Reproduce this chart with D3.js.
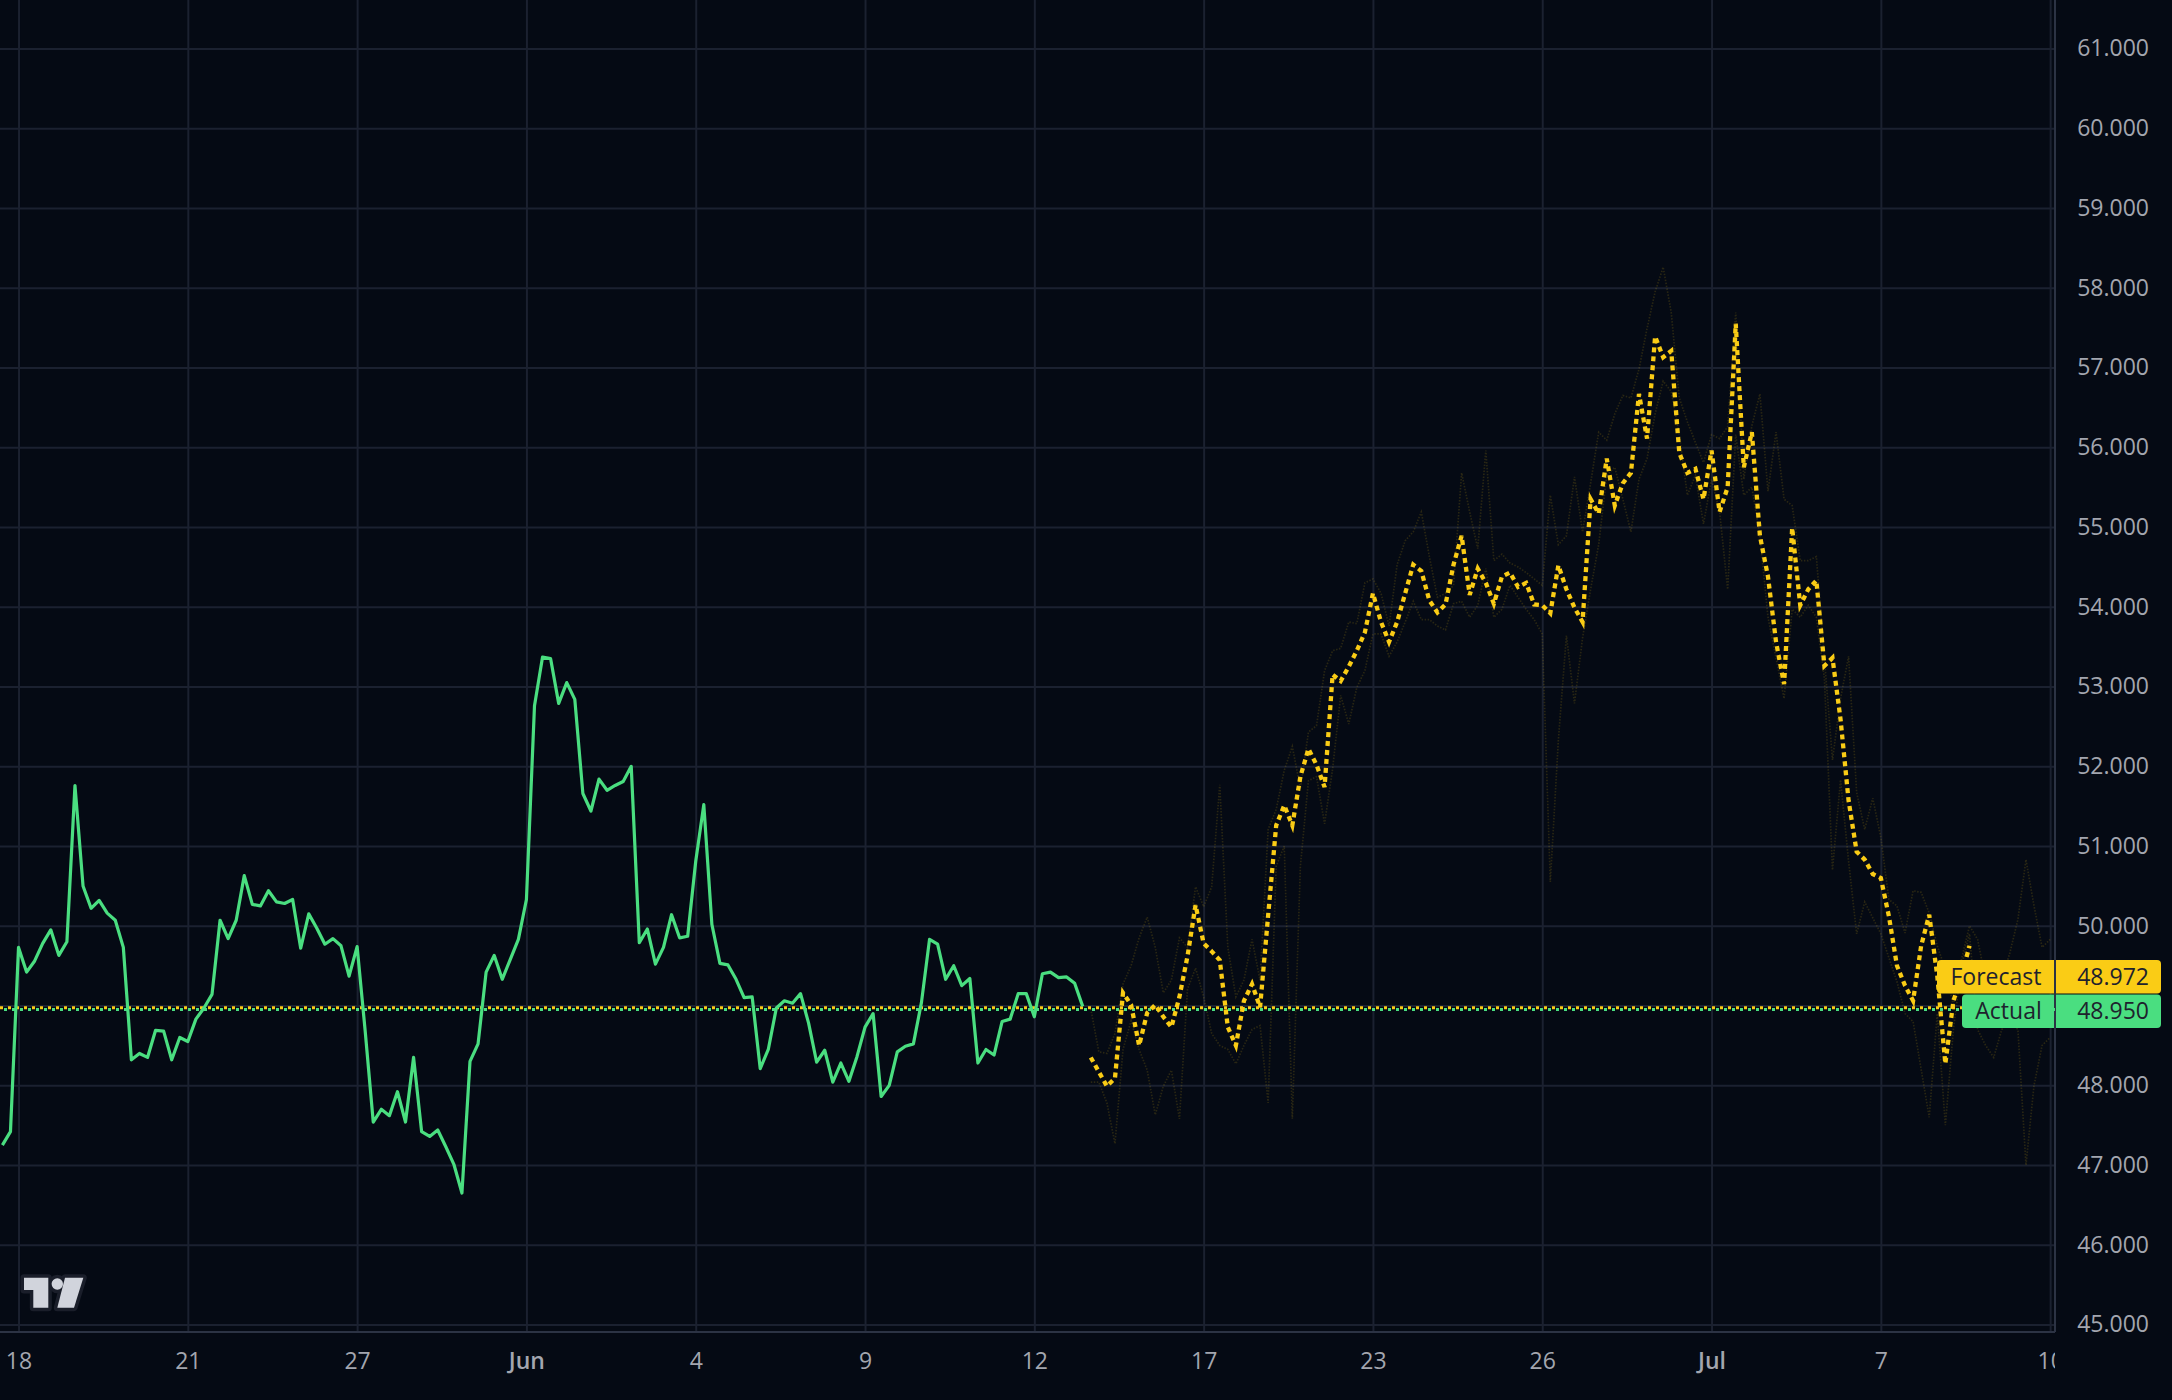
<!DOCTYPE html>
<html>
<head>
<meta charset="utf-8">
<script src="https://cdn.jsdelivr.net/npm/d3@7"></script>
<style>
  html, body { margin: 0; padding: 0; background: #050a14; }
  svg { display: block; }
  text { font-family: "Open Sans", "Noto Sans", sans-serif; }
</style>
</head>
<body>
<div id="chart"></div>
<script>
const width = 2172
const height = 1400
const plotRight = 2055
const plotBottom = 1332

// etiquetas del eje x (un tick cada 21 velas)
const xTickIndex = [2, 23, 44, 65, 86, 107, 128, 149, 170, 191, 212, 233, 254]
const xTickLabels = ['18', '21', '27', 'Jun', '4', '9', '12', '17', '23', '26', 'Jul', '7', '10']
const boldLabels = ['Jun', 'Jul']
const yTicks = [45, 46, 47, 48, 49, 50, 51, 52, 53, 54, 55, 56, 57, 58, 59, 60, 61]
// 49.000 queda tapado por las etiquetas de ultimo valor
const yLabelTicks = [45, 46, 47, 48, 50, 51, 52, 53, 54, 55, 56, 57, 58, 59, 60, 61]

// serie real (indices 0..134)
const actual = [
  47.25, 47.42, 49.73, 49.42, 49.56, 49.78, 49.95, 49.63, 49.80, 51.76,
  50.50, 50.22, 50.32, 50.16, 50.07, 49.73, 48.32, 48.40, 48.35, 48.69,
  48.68, 48.32, 48.60, 48.55, 48.83, 48.97, 49.14, 50.07, 49.84, 50.07,
  50.63, 50.27, 50.25, 50.44, 50.30, 50.28, 50.33, 49.72, 50.15, 49.97,
  49.77, 49.84, 49.75, 49.37, 49.74, 48.68, 47.54, 47.70, 47.62, 47.92,
  47.54, 48.35, 47.42, 47.36, 47.44, 47.23, 47.01, 46.65, 48.30, 48.52,
  49.42, 49.63, 49.33, 49.58, 49.83, 50.33, 52.76, 53.37, 53.35, 52.79,
  53.05, 52.84, 51.66, 51.44, 51.84, 51.70, 51.76, 51.81, 52.00, 49.79,
  49.96, 49.52, 49.73, 50.14, 49.85, 49.87, 50.81, 51.52, 50.02, 49.53,
  49.51, 49.33, 49.10, 49.11, 48.21, 48.45, 48.97, 49.06, 49.03, 49.15,
  48.78, 48.29, 48.44, 48.04, 48.28, 48.05, 48.36, 48.73, 48.90, 47.86,
  48.00, 48.42, 48.49, 48.52, 49.04, 49.83, 49.77, 49.33, 49.50, 49.25,
  49.34, 48.28, 48.45, 48.38, 48.80, 48.83, 49.15, 49.15, 48.86, 49.40,
  49.42, 49.35, 49.36, 49.28, 48.99
]

// prevision (indices 135..244)
const forecastStart = 135
const forecast = [
  48.35, 48.17, 47.99, 48.09, 49.16, 49.01, 48.50, 48.91, 49.01, 48.86,
  48.73, 49.11, 49.62, 50.26, 49.78, 49.68, 49.57, 48.73, 48.50, 49.06,
  49.27, 48.98, 50.13, 51.26, 51.51, 51.26, 51.87, 52.22, 52.02, 51.74,
  53.15, 53.07, 53.25, 53.45, 53.68, 54.17, 53.81, 53.56, 53.81, 54.17,
  54.53, 54.45, 54.08, 53.93, 54.03, 54.53, 54.89, 54.15, 54.48, 54.30,
  54.04, 54.38, 54.43, 54.25, 54.30, 54.03, 54.02, 53.92, 54.52, 54.22,
  53.99, 53.81, 55.35, 55.17, 55.86, 55.27, 55.55, 55.68, 56.67, 56.11,
  57.39, 57.13, 57.21, 55.93, 55.68, 55.73, 55.35, 55.96, 55.19, 55.50,
  57.55, 55.75, 56.19, 54.89, 54.38, 53.56, 53.03, 54.99, 54.02, 54.22,
  54.33, 53.26, 53.36, 52.59, 51.57, 50.93, 50.83, 50.65, 50.60, 50.12,
  49.50, 49.25, 49.06, 49.75, 50.14, 49.37, 48.27, 49.06, 49.37, 49.75
]

// bandas tenues (indices 135..254)
const bandUpper = [
  48.96, 48.42, 48.40, 48.65, 49.27, 49.50, 49.85, 50.11, 49.73, 49.16,
  49.32, 49.85, 49.73, 50.49, 50.24, 50.49, 51.77, 49.73, 49.11, 49.32,
  49.83, 49.32, 51.21, 51.46, 51.95, 52.25, 51.72, 52.43, 52.51, 53.20,
  53.45, 53.48, 53.81, 53.79, 54.30, 54.35, 54.17, 53.76, 54.53, 54.83,
  54.94, 55.19, 54.63, 54.12, 54.17, 54.27, 55.68, 55.19, 54.73, 55.96,
  54.58, 54.66, 54.55, 54.50, 54.43, 54.35, 54.27, 55.40, 54.78, 54.89,
  55.63, 54.94, 55.55, 56.19, 56.09, 56.42, 56.65, 56.62, 56.98, 57.49,
  57.95, 58.26, 57.69, 56.62, 56.32, 56.06, 55.81, 56.16, 56.11, 56.26,
  57.69, 55.60, 56.27, 56.67, 55.45, 56.19, 55.35, 55.27, 54.58, 54.58,
  54.63, 53.36, 52.08, 52.85, 53.38, 51.67, 51.21, 51.60, 51.11, 50.33,
  50.25, 49.91, 50.44, 50.42, 50.16, 49.75, 49.45, 49.00, 49.58, 50.00,
  49.83, 49.33, 49.16, 49.33, 49.66, 50.08, 50.83, 50.25, 49.73, 49.83
]
const bandLower = [
  48.04, 48.04, 47.78, 47.27, 48.45, 48.81, 48.45, 48.19, 47.63, 47.99,
  48.19, 47.58, 49.21, 49.47, 49.11, 48.65, 48.50, 48.45, 48.27, 48.50,
  48.70, 48.75, 47.78, 50.75, 51.00, 47.58, 50.75, 51.82, 51.87, 51.28,
  51.97, 52.89, 52.53, 52.99, 53.20, 53.66, 53.66, 53.38, 53.56, 53.81,
  54.07, 53.84, 53.84, 53.76, 53.71, 54.04, 54.07, 53.87, 54.02, 54.48,
  53.87, 53.97, 54.27, 54.12, 53.97, 53.84, 53.66, 50.55, 52.33, 53.64,
  52.79, 53.61, 54.22, 54.78, 55.65, 55.75, 55.35, 54.94, 55.60, 55.86,
  56.42, 56.83, 56.70, 56.16, 55.40, 55.65, 55.04, 55.60, 55.19, 54.22,
  56.16, 55.40, 55.50, 54.89, 53.87, 53.36, 52.85, 53.97, 53.87, 54.02,
  53.87, 53.10, 50.70, 51.83, 50.81, 49.90, 50.30, 50.10, 49.90, 49.60,
  49.30, 48.90, 48.80, 48.20, 47.60, 48.90, 47.50, 48.70, 49.50, 49.90,
  48.70, 48.50, 48.35, 48.70, 48.80, 48.70, 47.00, 48.00, 48.50, 48.60
]

const lastForecast = 48.972
const lastActual = 48.950

const yellow = '#facc15'
const green = '#4ade80'
const gridColor = '#1b2130'
const borderColor = '#2c3344'
const textColor = '#a3a6af'

const svg = d3.select('#chart').append('svg').attr('width', width).attr('height', height)
svg.append('rect').attr('width', width).attr('height', height).attr('fill', '#050a14')

const defs = svg.append('defs')
defs.append('clipPath').attr('id', 'plotClip')
    .append('rect').attr('x', 0).attr('y', 0).attr('width', plotRight).attr('height', plotBottom)

// escalas
const x = d3.scaleLinear().domain([0, 254]).range([2.4, 2.4 + 8.062 * 254])
const y = d3.scaleLinear().domain([45, 61]).range([1324.6, 48.6])

// rejilla
const gridGroup = svg.append('g').attr('class', 'gridGroup')
gridGroup.append('g')
    .attr('transform', `translate(0, ${plotBottom})`)
    .call(d3.axisBottom(x).tickValues(xTickIndex).tickSize(-plotBottom).tickFormat(''))
    .call(g => g.select('.domain').remove())
    .call(g => g.selectAll('line').attr('stroke', gridColor).attr('stroke-width', 2))
gridGroup.append('g')
    .call(d3.axisRight(y).tickValues(yTicks).tickSize(plotRight).tickFormat(''))
    .call(g => g.select('.domain').remove())
    .call(g => g.selectAll('line').attr('stroke', gridColor).attr('stroke-width', 2))

// bordes de los ejes
svg.append('line').attr('x1', 0).attr('x2', plotRight).attr('y1', plotBottom).attr('y2', plotBottom)
    .attr('stroke', borderColor).attr('stroke-width', 2)
svg.append('line').attr('x1', plotRight).attr('x2', plotRight).attr('y1', 0).attr('y2', plotBottom)
    .attr('stroke', borderColor).attr('stroke-width', 2)

const elementGroup = svg.append('g').attr('class', 'elementGroup').attr('clip-path', 'url(#plotClip)')

const line = d3.line().x(d => x(d.i)).y(d => y(d.v))
const withIndex = (arr, start) => arr.map((v, k) => ({ i: start + k, v: v }))

// bandas tenues
elementGroup.append('path').datum(withIndex(bandUpper, forecastStart)).attr('d', line)
    .attr('fill', 'none').attr('stroke', yellow).attr('stroke-opacity', 0.15)
    .attr('stroke-width', 1.7).attr('stroke-dasharray', '1.5 1.5')
elementGroup.append('path').datum(withIndex(bandLower, forecastStart)).attr('d', line)
    .attr('fill', 'none').attr('stroke', yellow).attr('stroke-opacity', 0.15)
    .attr('stroke-width', 1.7).attr('stroke-dasharray', '1.5 1.5')

// lineas de precio
elementGroup.append('line').attr('x1', 0).attr('x2', plotRight)
    .attr('y1', y(lastActual)).attr('y2', y(lastActual))
    .attr('stroke', green).attr('stroke-width', 3).attr('stroke-dasharray', '3 5').attr('stroke-dashoffset', 4)
elementGroup.append('line').attr('x1', 0).attr('x2', plotRight)
    .attr('y1', y(lastForecast)).attr('y2', y(lastForecast))
    .attr('stroke', yellow).attr('stroke-width', 3).attr('stroke-dasharray', '3 5')

// serie real
elementGroup.append('path').datum(withIndex(actual, 0)).attr('d', line)
    .attr('fill', 'none').attr('stroke', green).attr('stroke-width', 3.2)
    .attr('stroke-linejoin', 'round')

// prevision punteada
elementGroup.append('path').datum(withIndex(forecast, forecastStart)).attr('d', line)
    .attr('fill', 'none').attr('stroke', yellow).attr('stroke-width', 4.3)
    .attr('stroke-dasharray', '5 4')

// eje y
svg.append('g').attr('class', 'yAxisGroup')
    .attr('transform', 'translate(2149, 0)')
    .call(d3.axisLeft(y).tickValues(yLabelTicks).tickSize(0).tickPadding(0).tickFormat(d3.format('.3f')))
    .call(g => g.select('.domain').remove())
    .call(g => g.selectAll('text').attr('fill', textColor).attr('font-size', 23)
        .attr('font-family', '"Open Sans", sans-serif'))

// eje x
defs.append('clipPath').attr('id', 'xClip')
    .append('rect').attr('x', 0).attr('y', plotBottom).attr('width', plotRight).attr('height', height - plotBottom)
svg.append('g').attr('class', 'xAxisGroup')
    .attr('clip-path', 'url(#xClip)')
    .append('g')
    .attr('transform', `translate(0, ${plotBottom})`)
    .call(d3.axisBottom(x).tickValues(xTickIndex).tickSize(0).tickPadding(21).tickFormat((d, k) => xTickLabels[k]))
    .call(g => g.select('.domain').remove())
    .call(g => g.selectAll('text').attr('fill', textColor).attr('font-size', 23)
        .attr('font-family', '"Open Sans", sans-serif')
        .attr('font-weight', (d, k) => boldLabels.includes(xTickLabels[k]) ? 600 : 400))

// etiquetas de ultimo valor
const badges = [
    { name: 'Forecast', value: lastForecast, color: yellow, top: 960, left: 1937 },
    { name: 'Actual', value: lastActual, color: green, top: 994.5, left: 1962 },
]
const badgeGroup = svg.append('g').attr('class', 'badgeGroup')
badges.forEach(b => {
    const h = 33.5
    badgeGroup.append('path')
        .attr('d', `M${b.left + 4},${b.top} H${plotRight - 1} V${b.top + h} H${b.left + 4} Q${b.left},${b.top + h} ${b.left},${b.top + h - 4} V${b.top + 4} Q${b.left},${b.top} ${b.left + 4},${b.top} Z`)
        .attr('fill', b.color)
    badgeGroup.append('path')
        .attr('d', `M${plotRight + 1},${b.top} H${2157} Q${2161},${b.top} ${2161},${b.top + 4} V${b.top + h - 4} Q${2161},${b.top + h} ${2157},${b.top + h} H${plotRight + 1} Z`)
        .attr('fill', b.color)
    badgeGroup.append('text')
        .attr('x', (b.left + plotRight) / 2).attr('y', b.top + h / 2).attr('dy', '0.35em')
        .attr('text-anchor', 'middle').attr('font-size', 23).attr('fill', '#1e222d')
        .text(b.name)
    badgeGroup.append('text')
        .attr('x', 2149).attr('y', b.top + h / 2).attr('dy', '0.35em')
        .attr('text-anchor', 'end').attr('font-size', 23).attr('fill', '#1e222d')
        .text(d3.format('.3f')(b.value))
})

// logo
const logo = svg.append('g').attr('class', 'logo')
const logoShapes = g => {
    g.append('path').attr('d', 'M24,1277.7 H48.3 V1307.7 H33.3 V1290 H24 Z')
    g.append('circle').attr('cx', 57.3).attr('cy', 1284).attr('r', 5.7)
    g.append('path').attr('d', 'M65,1277.7 H83.3 L74,1307.7 H57.3 Z')
}
logo.append('g').attr('fill', '#1a1e2a').attr('stroke', '#1a1e2a').attr('stroke-width', 7)
    .attr('stroke-linejoin', 'round').call(logoShapes)
logo.append('g').attr('fill', '#d1d4dc').call(logoShapes)
</script>
</body>
</html>
